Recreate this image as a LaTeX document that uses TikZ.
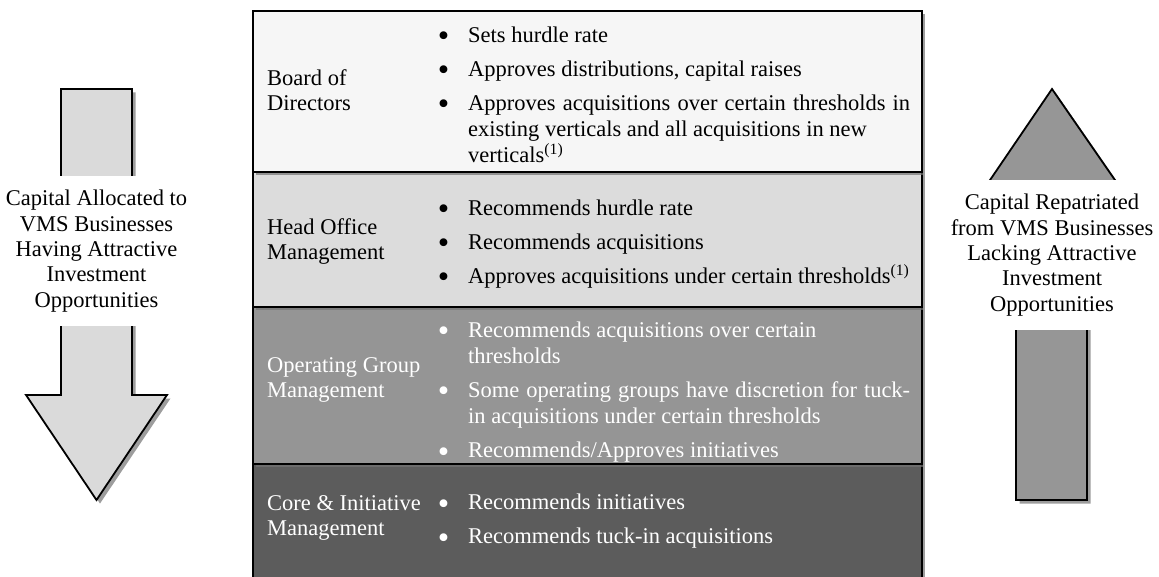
\documentclass[tikz,border=0pt]{standalone}
\usepackage{fontspec}
\setmainfont{Liberation Serif}
\usepackage{xcolor}
\usepackage{graphicx}
\usepackage{enumitem}
\usepackage{tikz}
\usetikzlibrary{shadows}

\definecolor{bandA}{HTML}{F6F6F6}
\definecolor{bandB}{HTML}{DCDCDC}
\definecolor{bandC}{HTML}{959595}
\definecolor{bandD}{HTML}{5C5C5C}
\definecolor{downfill}{HTML}{DADADA}
\definecolor{upfill}{HTML}{969696}

\newcommand{\bigdot}{\raisebox{-4.5pt}{\scalebox{1.45}{\textbullet}}}
\setlist[itemize]{label=\bigdot, leftmargin=38pt, labelsep=19pt, itemsep=8pt, parsep=0pt, topsep=0pt, partopsep=0pt}

\tikzset{
  band/.style={draw=black, line width=2pt, drop shadow={shadow xshift=3pt, shadow yshift=-3pt, fill=black!55, opacity=0.7}},
  flow/.style={draw=black, line width=1.8pt, line join=miter, drop shadow={shadow xshift=3.5pt, shadow yshift=-3.5pt, fill=black!55, opacity=0.7}},
  blist/.style={anchor=base west, inner sep=0pt, text width=480pt, align=justify, font=\fontsize{22.5}{26}\selectfont},
  blabel/.style={anchor=base west, inner sep=0pt, align=left, font=\fontsize{22.5}{25}\selectfont},
  sidetext/.style={fill=white, inner sep=0pt, minimum width=204pt, align=center, font=\fontsize{22.5}{25.3}\selectfont}
}

\begin{document}
\begin{tikzpicture}[x=1pt, y=-1pt]
\useasboundingbox (0,0) rectangle (1159,577);
\clip (0,0) rectangle (1159,577);

\filldraw[band, fill=bandD] (253,464) rectangle (922,600);
\filldraw[band, fill=bandC] (253,307) rectangle (922,464);
\filldraw[band, fill=bandB] (253,172) rectangle (922,307);
\filldraw[band, fill=bandA] (253,11) rectangle (922,172);

\node[blabel] (board) at (267,111) {Board of\\Directors};
\node[blabel] (office) at (267,260) {Head Office\\Management};
\node[blabel, text=white] (opgroup) at (267,397) {Operating Group\\Management};
\node[blabel, text=white] (core) at (267,535) {Core \& Initiative\\Management};

\node[blist] (boardlist) at (430,16.5) {\begin{itemize}
  \item Sets hurdle rate
  \item Approves distributions, capital raises
  \item Approves acquisitions over certain thresholds in\linebreak existing verticals and all acquisitions in new\\ verticals\textsuperscript{(1)}
\end{itemize}};
\node[blist] (officelist) at (430,189.5) {\begin{itemize}
  \item Recommends hurdle rate
  \item Recommends acquisitions
  \item Approves acquisitions under certain thresholds\textsuperscript{(1)}
\end{itemize}};
\node[blist, text=white] (opgrouplist) at (430,311.5) {\begin{itemize}
  \item Recommends acquisitions over certain\\ thresholds
  \item Some operating groups have discretion for tuck-\linebreak in acquisitions under certain thresholds
  \item Recommends/Approves initiatives
\end{itemize}};
\node[blist, text=white] (corelist) at (430,483.5) {\begin{itemize}
  \item Recommends initiatives
  \item Recommends tuck-in acquisitions
\end{itemize}};

\filldraw[flow, fill=downfill] (61,89) -- (132,89) -- (132,395) -- (167,395) -- (96.5,500) -- (26,395) -- (61,395) -- cycle;
\node[sidetext, minimum height=149pt] (alloc) at (96.5,251) {Capital Allocated to\\VMS Businesses\\Having Attractive\\Investment\\Opportunities};

\filldraw[flow, fill=upfill] (1016,500) -- (1016,183) -- (988,183) -- (1052,89) -- (1117,183) -- (1087,183) -- (1087,500) -- cycle;
\node[sidetext, minimum height=150pt] (repat) at (1052,255) {Capital Repatriated\\from VMS Businesses\\Lacking Attractive\\Investment\\Opportunities};
\end{tikzpicture}
\end{document}
